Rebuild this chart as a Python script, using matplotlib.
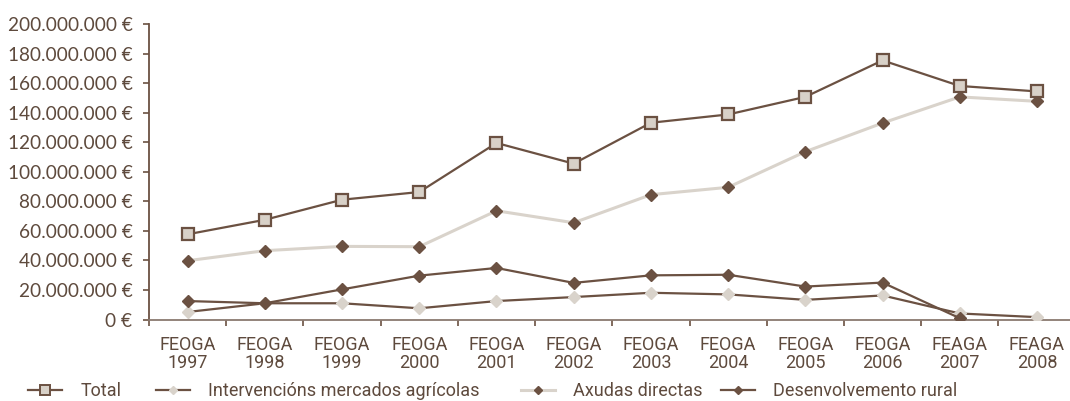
import matplotlib
matplotlib.use("Agg")
import matplotlib.pyplot as plt
from matplotlib.lines import Line2D
import numpy as np

categories = ["FEOGA\n1997", "FEOGA\n1998", "FEOGA\n1999", "FEOGA\n2000", "FEOGA\n2001",
              "FEOGA\n2002", "FEOGA\n2003", "FEOGA\n2004", "FEOGA\n2005", "FEOGA\n2006",
              "FEAGA\n2007", "FEAGA\n2008"]
total = [57.7, 67.5, 81.1, 86.3, 119.5, 105.5, 133.2, 138.8, 150.7, 175.4, 158.1, 154.4]
intervencions = [5.1, 11.0, 11.0, 7.6, 12.5, 15.2, 18.1, 17.0, 13.3, 16.3, 4.1, 1.6]
axudas = [39.8, 46.6, 49.5, 49.3, 73.6, 65.5, 84.5, 89.5, 113.6, 133.0, 150.7, 147.7]
desenvolvemento = [12.5, 11.0, 20.4, 29.7, 34.9, 24.8, 29.9, 30.3, 22.3, 25.0, 0.9, np.nan]
yticks = list(range(0, 201, 20))
series_names = ["Total", "Intervencións mercados agrícolas", "Axudas directas", "Desenvolvemento rural"]

DARK = "#6b5142"
LIGHT = "#d9d3cb"
FACE = "#d8d1c8"
TXT = "#5e4a3d"

fig = plt.figure(figsize=(10.70, 4.01), dpi=100)
ax = fig.add_axes([0.1393, 0.2032, 0.8659, 0.7368])

x = np.arange(len(categories))
ax.plot(x, axudas, color=LIGHT, lw=2.2, marker="D", ms=6, mfc=DARK, mec=DARK, zorder=3)
ax.plot(x, intervencions, color=DARK, lw=1.6, marker="D", ms=6, mfc=LIGHT, mec=LIGHT, zorder=4)
ax.plot(x, desenvolvemento, color=DARK, lw=1.6, marker="D", ms=6, mfc=DARK, mec=DARK, zorder=4)
ax.plot(x, total, color=DARK, lw=1.6, marker="s", ms=8, mfc=FACE, mec=DARK, mew=1.6, zorder=5)

ax.set_xlim(-0.5, len(categories) - 0.5)
ax.set_ylim(0, 200)

ax.set_yticks(yticks)
ax.set_yticklabels([("{:,}".format(v * 1000000)).replace(",", ".") + " €" for v in yticks],
                   fontfamily="Lato", fontsize=13.7, color=TXT)
ax.set_xticks(x - 0.5)
ax.set_xticklabels([])
ax.set_xticks(x, minor=True)
ax.set_xticklabels(categories, minor=True, fontfamily="Roboto", fontsize=13, color=TXT,
                   linespacing=1.0)
ax.tick_params(axis="x", which="minor", length=0, pad=12)
ax.tick_params(axis="x", which="major", length=4, width=1.2, color=DARK)
ax.tick_params(axis="y", length=4, width=1.2, color=DARK, pad=8)

for s in ["top", "right"]:
    ax.spines[s].set_visible(False)
ax.spines["left"].set_color(DARK)
ax.spines["left"].set_linewidth(1.3)
ax.spines["bottom"].set_color("#8a7a70")
ax.spines["bottom"].set_linewidth(1.3)

handles = [
    Line2D([], [], color=DARK, lw=1.6, marker="s", ms=7, mfc=FACE, mec=DARK, mew=1.4),
    Line2D([], [], color=DARK, lw=1.6, marker="D", ms=4, mfc=LIGHT, mec=LIGHT),
    Line2D([], [], color=LIGHT, lw=2.2, marker="D", ms=4, mfc=DARK, mec=DARK),
    Line2D([], [], color=DARK, lw=1.6, marker="D", ms=4, mfc=DARK, mec=DARK),
]
xpos = [28, 156, 521, 721]
for h, name, xp in zip(handles, series_names, xpos):
    fig.legend([h], [name], loc="center left", bbox_to_anchor=(xp / 1070, 0.025),
               frameon=False, handlelength=1.9, handletextpad=1.0, borderpad=0, borderaxespad=0,
               prop={"family": "Roboto", "size": 13}, labelcolor=TXT)

fig.savefig("out.png", dpi=100)
